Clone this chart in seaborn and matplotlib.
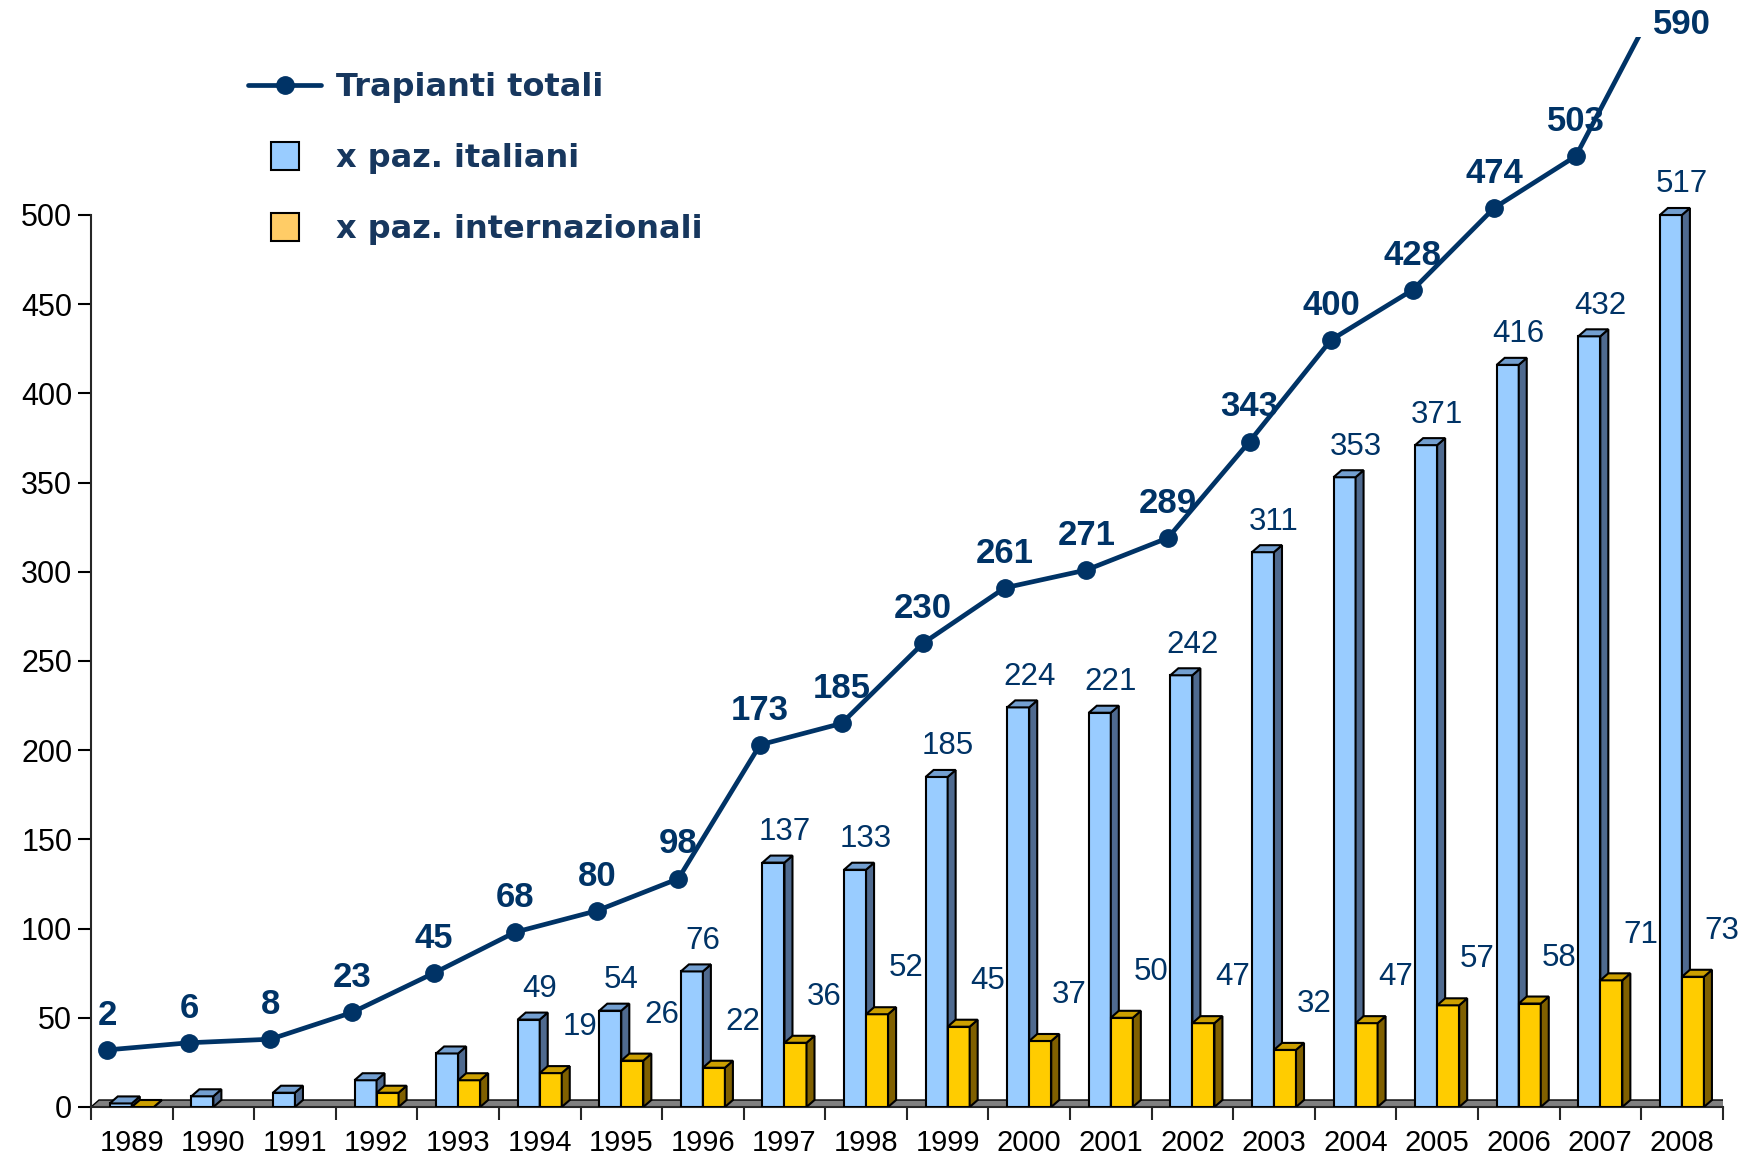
import numpy as np
import pandas as pd
import seaborn as sns
import matplotlib.pyplot as plt
import matplotlib.colors as mcolors
from matplotlib.patches import Polygon, Rectangle
from matplotlib.lines import Line2D

anni = [str(a) for a in range(1989, 2009)]
italiani = [2, 6, 8, 15, 30, 49, 54, 76, 137, 133, 185, 224, 221, 242, 311, 353, 371, 416, 432, 517]
internazionali = [0, np.nan, np.nan, 8, 15, 19, 26, 22, 36, 52, 45, 37, 50, 47, 32, 47, 57, 58, 71, 73]
totali = [2, 6, 8, 23, 45, 68, 80, 98, 173, 185, 230, 261, 271, 289, 343, 400, 428, 474, 503, 590]
serie = ['x paz. italiani', 'x paz. internazionali']
primo_anno_etichette = 1994   # earlier bars carry no value label
max_asse = 500                # bars are cut at the axis maximum, as in the original

blu, blu_lato, blu_sopra = '#99CCFF', '#4F6A8F', '#739FD0'
oro, oro_lato, oro_sopra = '#FFCC00', '#806000', '#CC9F00'
navy = '#003366'

sns.set_style('ticks')
plt.rcParams['font.family'] = ['Liberation Sans', 'DejaVu Sans']

W, H = 1754, 1154
fig = plt.figure(figsize=(W / 100, H / 100), dpi=100)
ax = fig.add_axes([91 / W, 47 / H, 1631.7 / W, 1070.4 / H])

df = pd.DataFrame({
    'anno': anni * 2,
    'valore': list(np.minimum(italiani, max_asse)) + internazionali,
    'serie': [serie[0]] * len(anni) + [serie[1]] * len(anni),
}).dropna()

sns.barplot(data=df, x='anno', y='valore', hue='serie', hue_order=serie, order=anni,
            palette=[blu, oro], width=0.54, saturation=1, edgecolor='black',
            linewidth=1.5, errorbar=None, legend=False, ax=ax)

ax.set_xlim(-0.5, len(anni) - 0.5)
ax.set_ylim(0, 600)
ax.set_xlabel('')
ax.set_ylabel('')
for s in ['top', 'right']:
    ax.spines[s].set_visible(False)
ax.spines['left'].set_bounds(0, 500)
ax.spines['left'].set_linewidth(1.5)
ax.spines['bottom'].set_linewidth(1.5)

ax.set_yticks(range(0, 501, 50))
ax.tick_params(axis='y', length=9.5, width=1.5, pad=4, labelsize=22, colors='black')
ax.set_xticks(np.arange(-0.5, len(anni), 1))
ax.set_xticklabels([])
ax.set_xticks(range(len(anni)), minor=True)
ax.set_xticklabels(anni, minor=True)
ax.tick_params(axis='x', which='major', length=9.5, width=1.5)
ax.tick_params(axis='x', which='minor', length=0, pad=16, labelsize=21, colors='black')

# 3d look: side and top faces, built from the bars seaborn drew
dx, dy = 8, 7
to_data = ax.transData.inverted()
barre = [p for p in ax.patches if isinstance(p, Rectangle) and np.isfinite(p.get_height())]


def faccia(punti, colore, z, lw=1.5):
    ax.add_patch(Polygon(to_data.transform(punti), closed=True, facecolor=colore,
                         edgecolor='black', lw=lw, zorder=z))


x0, x1 = ax.transData.transform([(-0.5, 0), (len(anni) - 0.5, 0)])
faccia([x0, x1, x1 + [dx, dy], x0 + [dx, dy]], '#808080', 2, lw=1)

for p in barre:
    e_blu = np.allclose(p.get_facecolor()[:3], mcolors.to_rgb(blu))
    z = 3 if e_blu else 4
    p.set_zorder(z)
    (a, b), (c, d) = ax.transData.transform([(p.get_x(), 0),
                                              (p.get_x() + p.get_width(), p.get_height())])
    faccia([(c, b), (c + dx, b + dy), (c + dx, d + dy), (c, d)], blu_lato if e_blu else oro_lato, z)
    faccia([(a, d), (a + dx, d + dy), (c + dx, d + dy), (c, d)], blu_sopra if e_blu else oro_sopra, z)

# value labels on the bars
for i, anno in enumerate(anni):
    if int(anno) < primo_anno_etichette:
        continue
    ax.annotate(str(italiani[i]), (i, min(italiani[i], max_asse)), xytext=(0, 22),
                textcoords='offset points', ha='center', va='center', fontsize=22.5, color=navy)
    ax.annotate(str(int(internazionali[i])), (i + 0.135, internazionali[i]), xytext=(21, 33),
                textcoords='offset points', ha='center', va='center', fontsize=22.5, color=navy)

# total line on its own hidden scale
ax2 = ax.twinx()
ax2.set_ylim(-30, 570)
ax2.set_axis_off()
x_linea = np.arange(len(anni)) - 0.3
ax2.plot(x_linea, totali, color=navy, lw=3.4, marker='o', ms=12.5,
         markevery=list(range(len(anni) - 1)), zorder=5)
for i, t in enumerate(totali):
    off = (17.5, -17) if i == len(totali) - 1 else (0, 25)
    ax2.annotate(str(t), (x_linea[i], t), xytext=off, textcoords='offset points',
                 ha='center', va='center', fontsize=25, fontweight='bold', color=navy,
                 annotation_clip=False)

maniglie = [
    Line2D([0], [0], color=navy, lw=3.4, marker='o', ms=12.5),
    Line2D([0], [0], ls='none', marker='s', ms=20, mfc=blu, mec='black', mew=1.5),
    Line2D([0], [0], ls='none', marker='s', ms=20, mfc='#FFCC66', mec='black', mew=1.5),
]
fig.legend(maniglie, ['Trapianti totali'] + serie, loc='upper left',
           bbox_to_anchor=(248 / W, 1 - 72 / H), frameon=False, borderpad=0,
           borderaxespad=0, handlelength=2.3, handletextpad=0.45, labelspacing=1.25,
           labelcolor='#17375E', prop={'family': 'DejaVu Sans', 'weight': 'bold', 'size': 23})

plt.savefig('out.png', dpi=100)
